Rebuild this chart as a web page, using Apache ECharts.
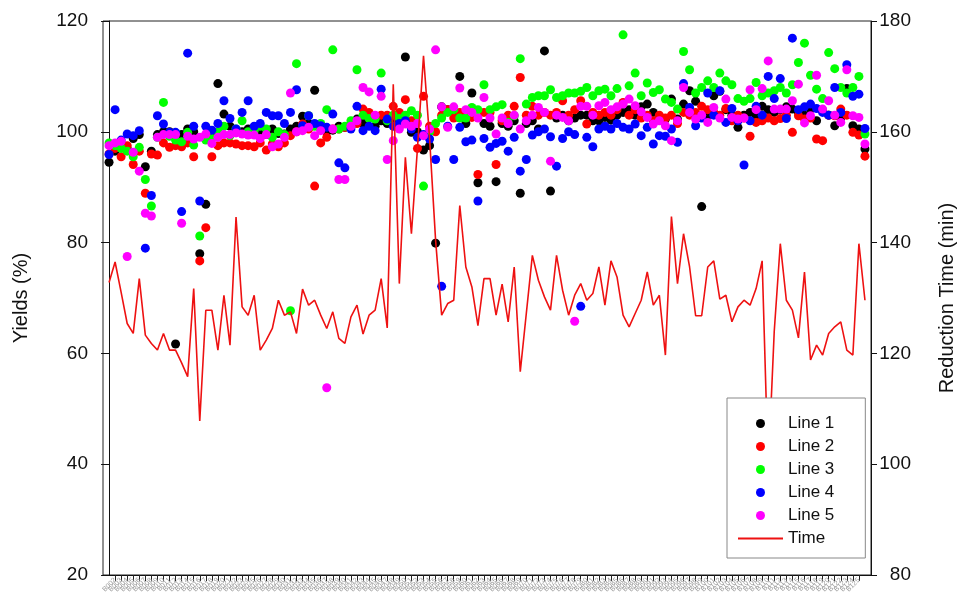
<!DOCTYPE html>
<html>
<head>
<meta charset="utf-8">
<script src="https://cdn.jsdelivr.net/npm/echarts@6/dist/echarts.min.js"></script>
<style>
html,body{margin:0;padding:0;background:#fff;}
#chart{width:964px;height:606px;}
</style>
</head>
<body>
<div id="chart"></div>
<script>
// X tick labels (illegible in the reference; batch identifiers)
const categories = ["B001","B002","B003","B004","B005","B006","B007","B008","B009","B010","B011","B012","B013","B014","B015","B016","B017","B018","B019","B020","B021","B022","B023","B024","B025","B026","B027","B028","B029","B030","B031","B032","B033","B034","B035","B036","B037","B038","B039","B040","B041","B042","B043","B044","B045","B046","B047","B048","B049","B050","B051","B052","B053","B054","B055","B056","B057","B058","B059","B060","B061","B062","B063","B064","B065","B066","B067","B068","B069","B070","B071","B072","B073","B074","B075","B076","B077","B078","B079","B080","B081","B082","B083","B084","B085","B086","B087","B088","B089","B090","B091","B092","B093","B094","B095","B096","B097","B098","B099","B100","B101","B102","B103","B104","B105","B106","B107","B108","B109","B110","B111","B112","B113","B114","B115","B116","B117","B118","B119","B120","B121","B122","B123","B124","B125","B126"];

const line1 = [94.5,96.5,97.5,97.0,98.8,99.5,93.7,96.5,99.5,100.0,
100.0,61.7,99.5,100.5,100.0,78.0,86.9,99.3,108.7,103.2,
101.0,99.9,100.0,100.5,99.8,100.2,99.5,100.5,99.7,99.6,
100.5,101.0,102.8,101.5,107.5,100.5,100.0,100.3,101.0,100.8,
101.2,102.3,101.5,102.5,101.0,102.0,101.5,102.0,101.0,113.5,
99.9,100.0,96.7,97.5,79.9,104.5,104.0,103.5,110.0,101.5,
107.0,90.8,101.5,101.0,91.0,101.5,101.0,102.0,88.9,101.5,
102.0,100.5,114.6,89.3,102.5,103.0,102.0,102.5,103.0,103.0,
102.0,102.0,102.6,102.1,103.0,103.5,104.0,103.0,104.5,105.0,
103.5,102.5,102.3,105.9,102.3,105.0,107.4,105.5,86.5,103.0,
106.5,107.3,104.0,103.0,100.8,103.0,103.5,103.0,104.6,104.0,
103.5,104.0,104.5,104.1,103.5,103.0,104.1,102.0,103.8,103.0,
101.1,102.5,107.8,101.1,100.5,96.9];

const line2 = [96.0,97.0,95.5,97.5,94.1,96.5,88.9,96.0,95.8,98.0,
97.2,97.5,97.3,98.0,95.5,76.7,82.7,95.5,97.5,98.0,
98.0,97.8,97.5,97.5,97.3,98.0,96.7,97.8,97.3,98.0,
99.3,100.0,101.4,100.5,90.2,98.0,99.0,100.5,100.5,100.8,
101.2,101.5,104.1,103.5,102.5,103.0,103.0,104.6,103.5,105.8,
102.0,97.0,106.4,101.0,100.0,103.0,104.0,102.5,103.5,103.0,
102.6,92.3,103.5,103.5,94.1,102.0,103.0,104.6,109.8,103.0,
104.6,103.0,103.5,103.0,103.5,105.6,103.0,104.0,105.6,101.4,
103.5,103.0,103.5,103.0,104.0,105.3,103.0,104.0,102.5,103.0,
102.0,103.0,102.5,103.0,101.5,103.5,103.0,103.5,104.6,104.0,
103.5,103.0,104.2,102.0,103.0,102.5,99.2,101.7,102.0,102.5,
102.0,102.4,103.0,99.9,102.9,102.3,102.5,98.7,98.4,103.0,
102.9,104.1,103.0,99.9,99.4,95.6];

const line3 = [98.0,97.5,97.0,96.5,95.5,97.2,91.4,86.6,99.0,105.3,
99.2,98.5,98.2,99.9,97.6,81.2,98.5,98.8,100.0,101.0,
99.3,100.5,102.0,100.0,100.2,101.0,100.5,99.0,100.0,99.5,
67.7,112.3,100.5,102.9,101.0,101.5,104.0,114.8,100.5,101.0,
102.0,111.2,103.0,102.4,102.3,110.6,102.0,103.0,102.4,103.0,
103.8,103.0,90.2,100.0,101.5,102.5,103.5,104.0,102.5,102.5,
104.4,104.0,108.5,104.0,104.5,104.9,101.7,102.9,113.2,105.0,
106.2,106.5,106.5,107.6,106.2,106.5,107.0,107.0,107.3,108.0,
106.5,107.4,107.7,106.5,107.8,117.5,108.3,110.6,106.5,108.8,
107.1,107.6,105.9,105.3,104.1,114.5,111.2,107.0,108.0,109.2,
108.0,110.6,109.2,108.5,106.0,105.5,106.0,108.9,106.5,107.0,
107.4,108.0,107.0,108.5,112.5,116.0,110.2,107.7,106.0,114.3,
111.4,108.0,107.0,108.0,110.0,99.6];

const line4 = [95.9,104.0,98.5,99.6,99.3,100.2,79.0,88.5,102.9,101.4,
99.9,99.9,85.6,114.2,101.0,87.5,101.0,100.3,101.5,105.6,
102.4,100.5,103.5,105.6,101.0,101.5,103.5,102.9,102.9,101.5,
103.5,107.6,101.1,102.9,101.5,101.1,100.8,103.2,94.4,93.5,
100.5,104.6,100.2,101.0,100.2,107.7,102.3,101.0,101.5,102.0,
100.5,99.0,99.5,98.7,95.0,72.1,101.0,95.0,100.8,98.2,
98.5,87.5,98.8,97.2,97.9,98.3,96.5,99.0,92.9,95.0,
99.4,100.0,100.5,99.1,93.8,98.8,100.0,99.5,68.5,99.0,
97.3,100.5,101.0,100.5,101.5,100.8,100.5,101.4,99.3,100.8,
97.8,99.3,99.2,100.5,98.1,108.7,104.4,101.1,102.5,107.0,
103.0,107.4,101.7,104.2,102.0,94.0,102.0,104.6,103.0,110.0,
106.0,109.6,102.4,116.9,104.0,104.5,105.0,104.2,103.5,103.0,
108.0,103.5,112.1,106.4,106.8,100.6];

const line5 = [97.5,98.0,98.3,77.5,96.3,92.9,85.3,84.8,99.0,99.5,
99.5,99.5,83.5,99.2,98.7,99.0,99.6,97.9,99.0,99.5,
99.5,99.8,99.6,99.4,99.4,98.8,99.5,97.3,97.8,99.0,
107.0,100.0,100.2,100.8,99.3,100.2,53.8,100.5,91.4,91.4,
101.0,102.0,108.0,107.2,103.0,106.4,95.0,98.4,100.5,101.4,
101.0,101.5,99.3,100.5,114.8,104.5,100.8,104.5,107.9,104.0,
103.5,102.5,106.2,102.5,99.6,102.5,101.5,103.0,100.5,102.0,
103.0,104.4,103.5,94.7,103.0,102.6,102.0,65.8,104.6,104.6,
103.0,104.7,105.3,104.0,104.5,105.0,105.9,104.7,103.6,102.6,
101.4,102.0,101.1,98.4,102.0,108.0,103.5,102.3,103.0,101.7,
104.4,102.5,105.9,102.6,102.3,102.5,107.6,104.0,107.8,112.8,
104.1,104.1,104.1,105.6,108.6,101.6,102.9,110.2,104.1,105.6,
103.0,101.7,111.2,102.9,102.6,97.8];

const timeMin = [132.8,136.5,131.0,125.4,123.6,133.5,123.3,121.8,120.6,123.6,
120.6,120.6,118.3,115.8,131.7,107.8,127.8,127.8,120.6,130.5,
121.5,144.6,128.4,126.9,130.5,120.6,122.4,124.5,129.6,126.9,
127.5,123.6,131.6,128.7,129.6,126.9,124.5,127.5,122.7,121.8,
126.6,128.7,123.5,126.9,127.8,133.5,124.6,168.6,132.6,155.4,
141.6,157.0,173.7,158.9,140.4,126.9,129.0,129.6,146.7,135.6,
132.0,125.0,133.5,133.5,126.9,132.5,125.7,135.6,116.7,127.2,
137.7,133.2,130.2,127.8,137.7,131.4,126.9,130.5,132.6,129.6,
130.8,135.6,128.7,136.7,133.8,126.9,124.8,127.2,129.6,134.7,
128.7,130.5,119.7,144.7,132.6,141.6,135.6,126.8,126.8,135.6,
136.7,129.8,130.5,125.7,128.4,129.6,128.7,131.7,136.7,99.0,
124.0,139.8,129.6,127.8,122.8,134.7,118.8,121.5,119.7,123.6,
124.8,125.7,120.6,119.7,139.8,129.6];

const yieldTicks = [20, 40, 60, 80, 100, 120];
const timeTicks = [80, 100, 120, 140, 160, 180];

const FONT = 'Liberation Sans, Arial, sans-serif';
const positions = categories.map((_, i) => i);
const toPairs = arr => arr.map((v, i) => [i, v]);

const chart = echarts.init(document.getElementById('chart'), null, {renderer: 'canvas'});

const scatter = (name, data, color) => ({
  name, type: 'scatter', xAxisIndex: 0, yAxisIndex: 0,
  data: toPairs(data), symbol: 'circle', symbolSize: 9,
  itemStyle: {color: color, opacity: 1},
  emphasis: {disabled: true}, animation: false
});

chart.setOption({
  animation: false,
  backgroundColor: '#fff',
  textStyle: {fontFamily: FONT},
  grid: {left: 103, right: 93, top: 21, bottom: 31, show: true, borderColor: '#222', borderWidth: 1,
         containLabel: false, outerBoundsMode: 'none'},
  legend: {
    orient: 'vertical', left: 727, top: 398,
    backgroundColor: '#fff', borderColor: '#888', borderWidth: 1,
    padding: [17, 31, 11, 10],
    itemWidth: 45, itemHeight: 9, itemGap: 6,
    textStyle: {fontSize: 17, lineHeight: 17, color: '#111', fontFamily: FONT},
    data: [
      {name: 'Line 1', icon: 'circle'},
      {name: 'Line 2', icon: 'circle'},
      {name: 'Line 3', icon: 'circle'},
      {name: 'Line 4', icon: 'circle'},
      {name: 'Line 5', icon: 'circle'},
      {name: 'Time', itemStyle: {opacity: 0}}
    ]
  },
  xAxis: {
    type: 'value', min: -1, max: 126,
    splitLine: {show: false},
    axisLine: {show: true, lineStyle: {color: '#111', width: 1}},
    axisTick: {show: true, customValues: positions, length: 6, lineStyle: {color: '#222'}},
    axisLabel: {
      show: true, customValues: positions, rotate: 45, fontSize: 7, color: '#999', margin: 4,
      formatter: v => (categories[v] !== undefined ? categories[v] : '')
    }
  },
  yAxis: [
    {
      type: 'value', min: 20, max: 120, interval: 20, position: 'left',
      name: 'Yields (%)', nameLocation: 'middle', nameGap: 72,
      nameTextStyle: {fontSize: 20, color: '#111', fontFamily: FONT},
      splitLine: {show: false},
      axisLine: {show: true, lineStyle: {color: '#111', width: 1}},
      axisTick: {show: true, length: 8, lineStyle: {color: '#111'}},
      axisLabel: {fontSize: 19, color: '#111', margin: 15,
        formatter: v => (yieldTicks.indexOf(v) >= 0 ? String(v) : '')}
    },
    {
      type: 'value', min: 80, max: 180, interval: 20, position: 'right',
      name: 'Reduction Time (min)', nameLocation: 'middle', nameGap: 66,
      nameTextStyle: {fontSize: 20, color: '#111', fontFamily: FONT},
      splitLine: {show: false},
      axisLine: {show: true, lineStyle: {color: '#111', width: 1}},
      axisTick: {show: true, length: 6, lineStyle: {color: '#111'}},
      axisLabel: {fontSize: 19, color: '#111', margin: 40, align: 'right',
        formatter: v => (timeTicks.indexOf(v) >= 0 ? String(v) : '')}
    }
  ],
  series: [
    scatter('Line 1', line1, '#000000'),
    scatter('Line 2', line2, '#ff0000'),
    scatter('Line 3', line3, '#00ff00'),
    scatter('Line 4', line4, '#0000ff'),
    scatter('Line 5', line5, '#ff00ff'),
    {
      name: 'Time', type: 'line', xAxisIndex: 0, yAxisIndex: 1,
      data: toPairs(timeMin), symbol: 'none', smooth: false,
      lineStyle: {color: '#ee1111', width: 1.6},
      itemStyle: {color: '#ee1111'},
      emphasis: {disabled: true}, animation: false, z: 3
    }
  ]
});
</script>
</body>
</html>
